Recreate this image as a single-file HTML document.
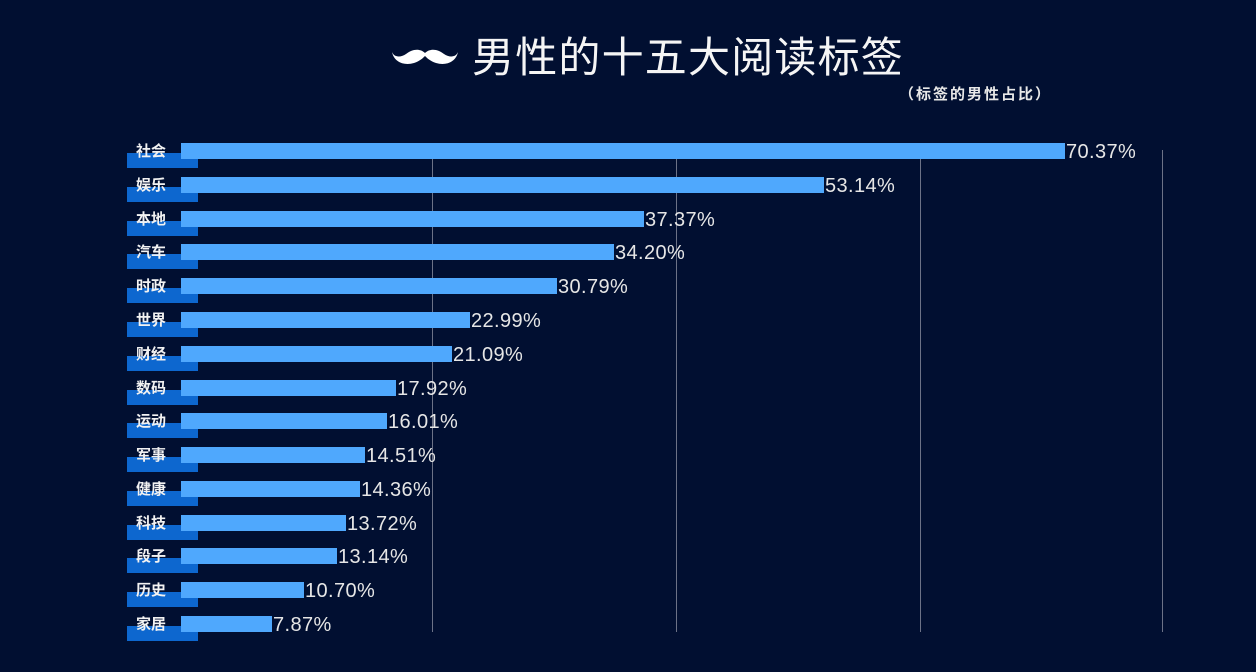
<!DOCTYPE html>
<html><head><meta charset="utf-8"><style>
body{margin:0;width:1256px;height:672px;background:#010f31;overflow:hidden;position:relative;font-family:"Liberation Sans","Noto Sans CJK SC",sans-serif;}
.g{position:absolute;top:150px;height:482px;width:1px;background:#6c7287;}
.tab{position:absolute;left:127px;width:71px;height:15px;background:#0d67cf;}
.bar{position:absolute;left:181px;height:16px;background:#4fa8fd;}
.lb{position:absolute;left:136px;font-size:15px;line-height:18px;color:#f2f2f2;font-weight:bold;}
.v{position:absolute;font-size:20px;line-height:18px;color:#e6e6e6;letter-spacing:0.4px;}
</style></head><body>
<svg style="position:absolute;left:390px;top:44px" width="70" height="26" viewBox="0 0 70 26">
<path d="M2 8 C4 18 14 22 24 19 C30 17 33 14 35 12 C37 14 40 17 46 19 C56 22 66 18 68 8 C66 13 60 14 54 10 C48 5 40 4 35 9 C30 4 22 5 16 10 C10 14 4 13 2 8Z" fill="#fff"/>
</svg>
<div style="position:absolute;left:472px;top:33px;font-size:42px;line-height:50px;color:#f5f5f5;letter-spacing:1.2px;">男性的十五大阅读标签</div>
<div style="position:absolute;left:899px;top:86px;font-size:15px;line-height:18px;color:#e8e8e8;font-weight:bold;letter-spacing:2px;">（标签的男性占比）</div>
<div class="g" style="left:432px"></div><div class="g" style="left:676px"></div><div class="g" style="left:920px"></div><div class="g" style="left:1162px"></div>

<div class="tab" style="top:153px"></div><div class="bar" style="top:143px;width:884px"></div><div class="lb" style="top:143px">社会</div><div class="v" style="left:1066px;top:143px">70.37%</div>
<div class="tab" style="top:187px"></div><div class="bar" style="top:177px;width:643px"></div><div class="lb" style="top:177px">娱乐</div><div class="v" style="left:825px;top:177px">53.14%</div>
<div class="tab" style="top:221px"></div><div class="bar" style="top:211px;width:463px"></div><div class="lb" style="top:211px">本地</div><div class="v" style="left:645px;top:211px">37.37%</div>
<div class="tab" style="top:254px"></div><div class="bar" style="top:244px;width:433px"></div><div class="lb" style="top:244px">汽车</div><div class="v" style="left:615px;top:244px">34.20%</div>
<div class="tab" style="top:288px"></div><div class="bar" style="top:278px;width:376px"></div><div class="lb" style="top:278px">时政</div><div class="v" style="left:558px;top:278px">30.79%</div>
<div class="tab" style="top:322px"></div><div class="bar" style="top:312px;width:289px"></div><div class="lb" style="top:312px">世界</div><div class="v" style="left:471px;top:312px">22.99%</div>
<div class="tab" style="top:356px"></div><div class="bar" style="top:346px;width:271px"></div><div class="lb" style="top:346px">财经</div><div class="v" style="left:453px;top:346px">21.09%</div>
<div class="tab" style="top:390px"></div><div class="bar" style="top:380px;width:215px"></div><div class="lb" style="top:380px">数码</div><div class="v" style="left:397px;top:380px">17.92%</div>
<div class="tab" style="top:423px"></div><div class="bar" style="top:413px;width:206px"></div><div class="lb" style="top:413px">运动</div><div class="v" style="left:388px;top:413px">16.01%</div>
<div class="tab" style="top:457px"></div><div class="bar" style="top:447px;width:184px"></div><div class="lb" style="top:447px">军事</div><div class="v" style="left:366px;top:447px">14.51%</div>
<div class="tab" style="top:491px"></div><div class="bar" style="top:481px;width:179px"></div><div class="lb" style="top:481px">健康</div><div class="v" style="left:361px;top:481px">14.36%</div>
<div class="tab" style="top:525px"></div><div class="bar" style="top:515px;width:165px"></div><div class="lb" style="top:515px">科技</div><div class="v" style="left:347px;top:515px">13.72%</div>
<div class="tab" style="top:558px"></div><div class="bar" style="top:548px;width:156px"></div><div class="lb" style="top:548px">段子</div><div class="v" style="left:338px;top:548px">13.14%</div>
<div class="tab" style="top:592px"></div><div class="bar" style="top:582px;width:123px"></div><div class="lb" style="top:582px">历史</div><div class="v" style="left:305px;top:582px">10.70%</div>
<div class="tab" style="top:626px"></div><div class="bar" style="top:616px;width:91px"></div><div class="lb" style="top:616px">家居</div><div class="v" style="left:273px;top:616px">7.87%</div>
</body></html>
